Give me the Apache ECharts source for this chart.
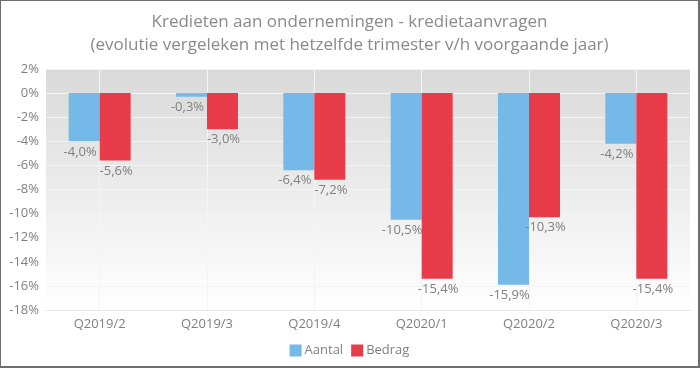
<!DOCTYPE html>
<html>
<head>
<meta charset="utf-8">
<script src="https://cdn.jsdelivr.net/npm/echarts@6/dist/echarts.min.js"></script>
<style>
html,body{margin:0;padding:0;background:#fff;}
#chart{width:700px;height:368px;box-sizing:border-box;border:1px solid #6e6e6e;border-right-width:2px;border-bottom-width:2px;}
</style>
</head>
<body>
<div id="chart"></div>
<script>
const categories = ['Q2019/2', 'Q2019/3', 'Q2019/4', 'Q2020/1', 'Q2020/2', 'Q2020/3'];
const aantal = [-4.0, -0.3, -6.4, -10.5, -15.9, -4.2];
const bedrag = [-5.6, -3.0, -7.2, -15.4, -10.3, -15.4];
const seriesNames = ['Aantal', 'Bedrag'];
const titleLines = ['Kredieten aan ondernemingen - kredietaanvragen', '(evolutie vergeleken met hetzelfde trimester v/h voorgaande jaar)'];

const FONT = '"Open Sans", "Noto Sans", sans-serif';
const fmt = v => v.toFixed(1).replace('.', ',') + '%';
const chart = echarts.init(document.getElementById('chart'), null, {renderer: 'canvas'});
const labelOpt = (dx) => ({
  show: true, position: 'bottom', distance: 4, offset: [dx, 0],
  color: '#808080', fontSize: 13, fontFamily: FONT,
  formatter: p => fmt(p.value)
});
chart.setOption({
  animation: false,
  title: {
    text: titleLines.join('\n'), left: 'center', top: 5,
    textStyle: {color: '#8a8a8a', fontSize: 17, fontWeight: 'normal', fontFamily: FONT, lineHeight: 23}
  },
  legend: {
    data: seriesNames, bottom: 4, left: 'center', itemWidth: 12, itemHeight: 12, itemGap: 8,
    icon: 'rect',
    textStyle: {color: '#808080', fontSize: 13, fontFamily: FONT, padding: [0, 0, 0, -2]}
  },
  grid: {
    left: 45, right: 8, top: 68, bottom: 56, show: true, borderWidth: 0,
    backgroundColor: new echarts.graphic.LinearGradient(0, 0, 0, 1, [
      {offset: 0, color: '#d9d9d9'}, {offset: 1, color: '#ffffff'}
    ])
  },
  xAxis: {
    type: 'category', data: categories,
    axisLine: {show: true, onZero: false, lineStyle: {color: '#e6e6e6'}},
    axisTick: {show: false},
    splitLine: {show: true, alignWithLabel: true, lineStyle: {color: '#f4f4f4', width: 1}},
    axisLabel: {color: '#808080', fontSize: 13, fontFamily: FONT, margin: 8}
  },
  yAxis: {
    type: 'value', min: -18, max: 2, interval: 2,
    axisLine: {show: false}, axisTick: {show: false},
    splitLine: {lineStyle: {color: '#f4f4f4', width: 1}},
    axisLabel: {color: '#808080', fontSize: 13, fontFamily: FONT, margin: 7, formatter: v => v + '%'}
  },
  series: [
    {name: seriesNames[0], type: 'bar', data: aantal, barWidth: 31, barGap: '0%',
     itemStyle: {color: '#74b9e7'}, label: labelOpt(-4)},
    {name: seriesNames[1], type: 'bar', data: bedrag, barWidth: 31, barGap: '0%',
     itemStyle: {color: '#e83c4b'}, label: labelOpt(1)}
  ]
});
</script>
</body>
</html>
